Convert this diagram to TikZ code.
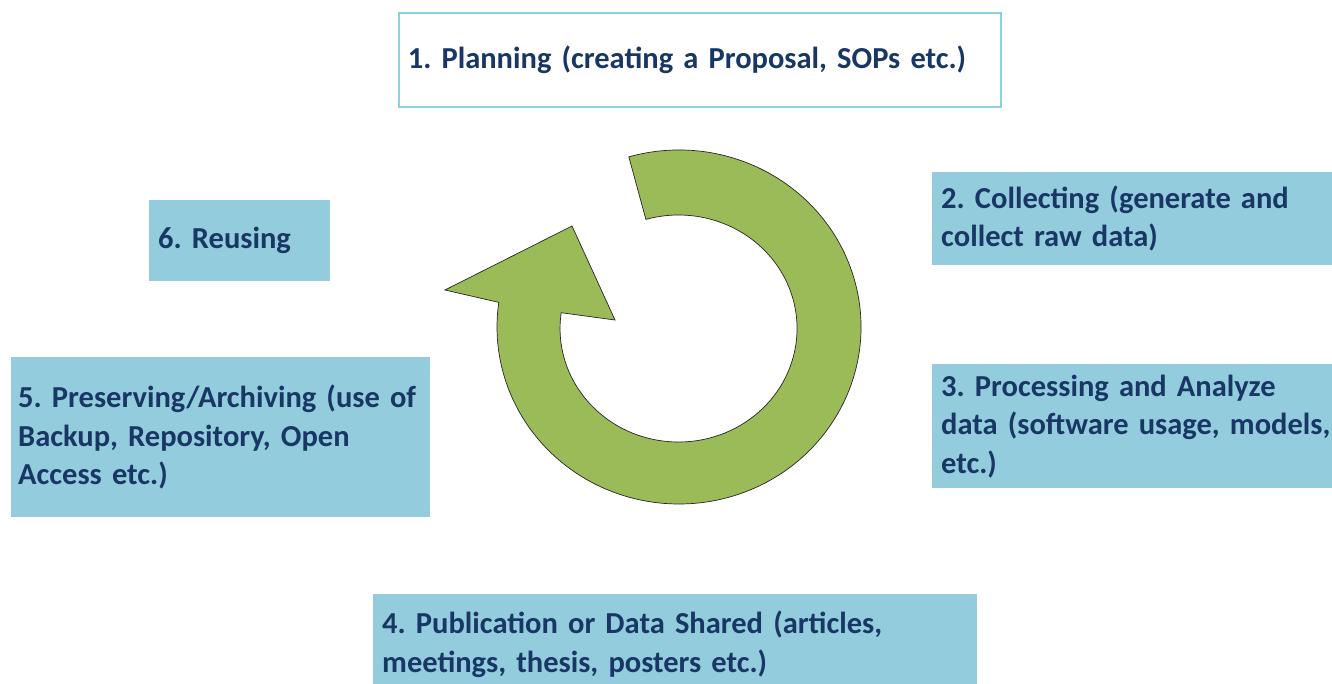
\documentclass[tikz,border=0pt]{standalone}
\usepackage{fontspec}
\setmainfont{Carlito}
\definecolor{boxfill}{RGB}{147,205,221}
\definecolor{boxline}{RGB}{140,208,224}
\definecolor{txt}{RGB}{25,55,100}
\definecolor{arrowgreen}{RGB}{155,187,89}
\begin{document}
\frenchspacing
\begin{tikzpicture}[x=1pt,y=-1pt,
  stage/.style={anchor=north west, fill=boxfill, inner xsep=9pt, inner ysep=0pt,
    align=left, text=txt, font=\fontsize{30.5}{38.5}\selectfont\bfseries\frenchspacing},
  planbox/.style={stage, fill=white, draw=boxline, line width=1.6pt},
  cyclearrow/.style={fill=arrowgreen, draw=black!85, line width=0.7pt, line join=miter}]
\useasboundingbox (0,0) rectangle (1332,683);
\fill[white] (0,0) rectangle (1332,683);

\node[planbox, minimum width=602, minimum height=94, text width=584] (plan) at (398,12)
  {1. Planning (creating a Proposal, SOPs etc.)};
\node[stage, minimum width=420, minimum height=93, text width=402] (collect) at (932,172)
  {2. Collecting (generate and\\collect raw data)};
\node[stage, minimum width=420, minimum height=124, text width=402] (process) at (932,364)
  {3. Processing and Analyze\\data (software usage, models,\\etc.)};
\node[stage, minimum width=604, minimum height=100, text width=586] (publish) at (373,594)
  {4. Publication or Data Shared (articles,\\meetings, thesis, posters etc.)};
\node[stage, inner xsep=7pt, minimum width=419, minimum height=160, text width=405] (preserve) at (11,357)
  {5. Preserving/Archiving (use of\\Backup, Repository, Open\\Access etc.)};
\node[stage, minimum width=181, minimum height=81, text width=163] (reuse) at (149,200)
  {6. Reusing};

\coordinate (c) at (679,327);
\draw[cyclearrow] (c) ++(-106:182 and 177)
  arc[start angle=-106, end angle=188, x radius=182, y radius=177]
  -- (445,290) -- (572,226) -- (615,320) -- (561.2,312.7)
  arc[start angle=188, end angle=-106, x radius=118.5, y radius=113.5]
  -- cycle;
\end{tikzpicture}
\end{document}
